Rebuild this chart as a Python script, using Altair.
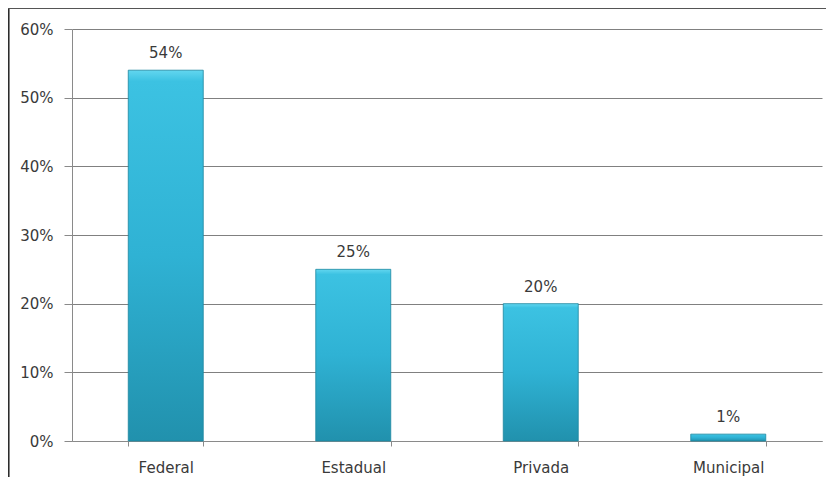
import altair as alt
import pandas as pd

categories = ["Federal", "Estadual", "Privada", "Municipal"]
shares = [0.54, 0.25, 0.20, 0.01]
share_labels = ["54%", "25%", "20%", "1%"]

df = pd.DataFrame({"cat": categories, "share": shares, "label": share_labels})

W, H = 750, 412
FONT = "DejaVu Sans"
TXT = "#3a3a3a"

x = alt.X("cat:N", sort=categories, title=None,
          scale=alt.Scale(paddingInner=0.6, paddingOuter=0.3),
          axis=alt.Axis(labelAngle=0, labelFont=FONT, labelFontSize=15,
                        labelColor=TXT, tickBand="extent", tickSize=5,
                        tickColor="#8a8a8a", domainColor="#8a8a8a",
                        labelPadding=14, grid=False))
y = alt.Y("share:Q", title=None,
          scale=alt.Scale(domain=[0, 0.6], nice=False),
          axis=alt.Axis(format=".0%", values=[0, 0.1, 0.2, 0.3, 0.4, 0.5, 0.6],
                        labelFont=FONT, labelFontSize=15, labelColor=TXT,
                        tickSize=8, tickColor="#8a8a8a", domainColor="#8a8a8a",
                        gridColor="#808080", gridWidth=1, labelPadding=11))

grad = alt.Gradient(
    gradient="linear", x1=0, x2=0, y1=0, y2=1,
    stops=[alt.GradientStop(color="#62d6ef", offset=0),
           alt.GradientStop(color="#3cc2e2", offset=0.03),
           alt.GradientStop(color="#2fb2d4", offset=0.5),
           alt.GradientStop(color="#2191ad", offset=1)])

bars = alt.Chart(df).mark_bar(color=grad, stroke="#1d86a0", strokeWidth=0.8).encode(x=x, y=y)

labels = alt.Chart(df).mark_text(font=FONT, fontSize=15, color=TXT,
                                 baseline="alphabetic", dy=-12).encode(
    x=alt.X("cat:N", sort=categories), y="share:Q", text="label:N")

frame_df = pd.DataFrame({"k": [0]})
left_line = alt.Chart(frame_df).mark_rule(color="#222222", strokeWidth=1.5).encode(
    x=alt.value(-63.2), y=alt.value(-21), y2=alt.value(H + 40))
top_line = alt.Chart(frame_df).mark_rule(color="#555555", strokeWidth=1).encode(
    x=alt.value(-64), x2=alt.value(W + 10), y=alt.value(-20.5))

chart = alt.layer(bars, labels, left_line, top_line).properties(
    width=W, height=H,
    autosize=alt.AutoSizeParams(type="none"),
    padding={"left": 64, "top": 21, "right": 4, "bottom": 36},
    background="white",
).configure_view(stroke=None)

chart.save("out.html", embed_options={"renderer": "svg", "actions": False})
